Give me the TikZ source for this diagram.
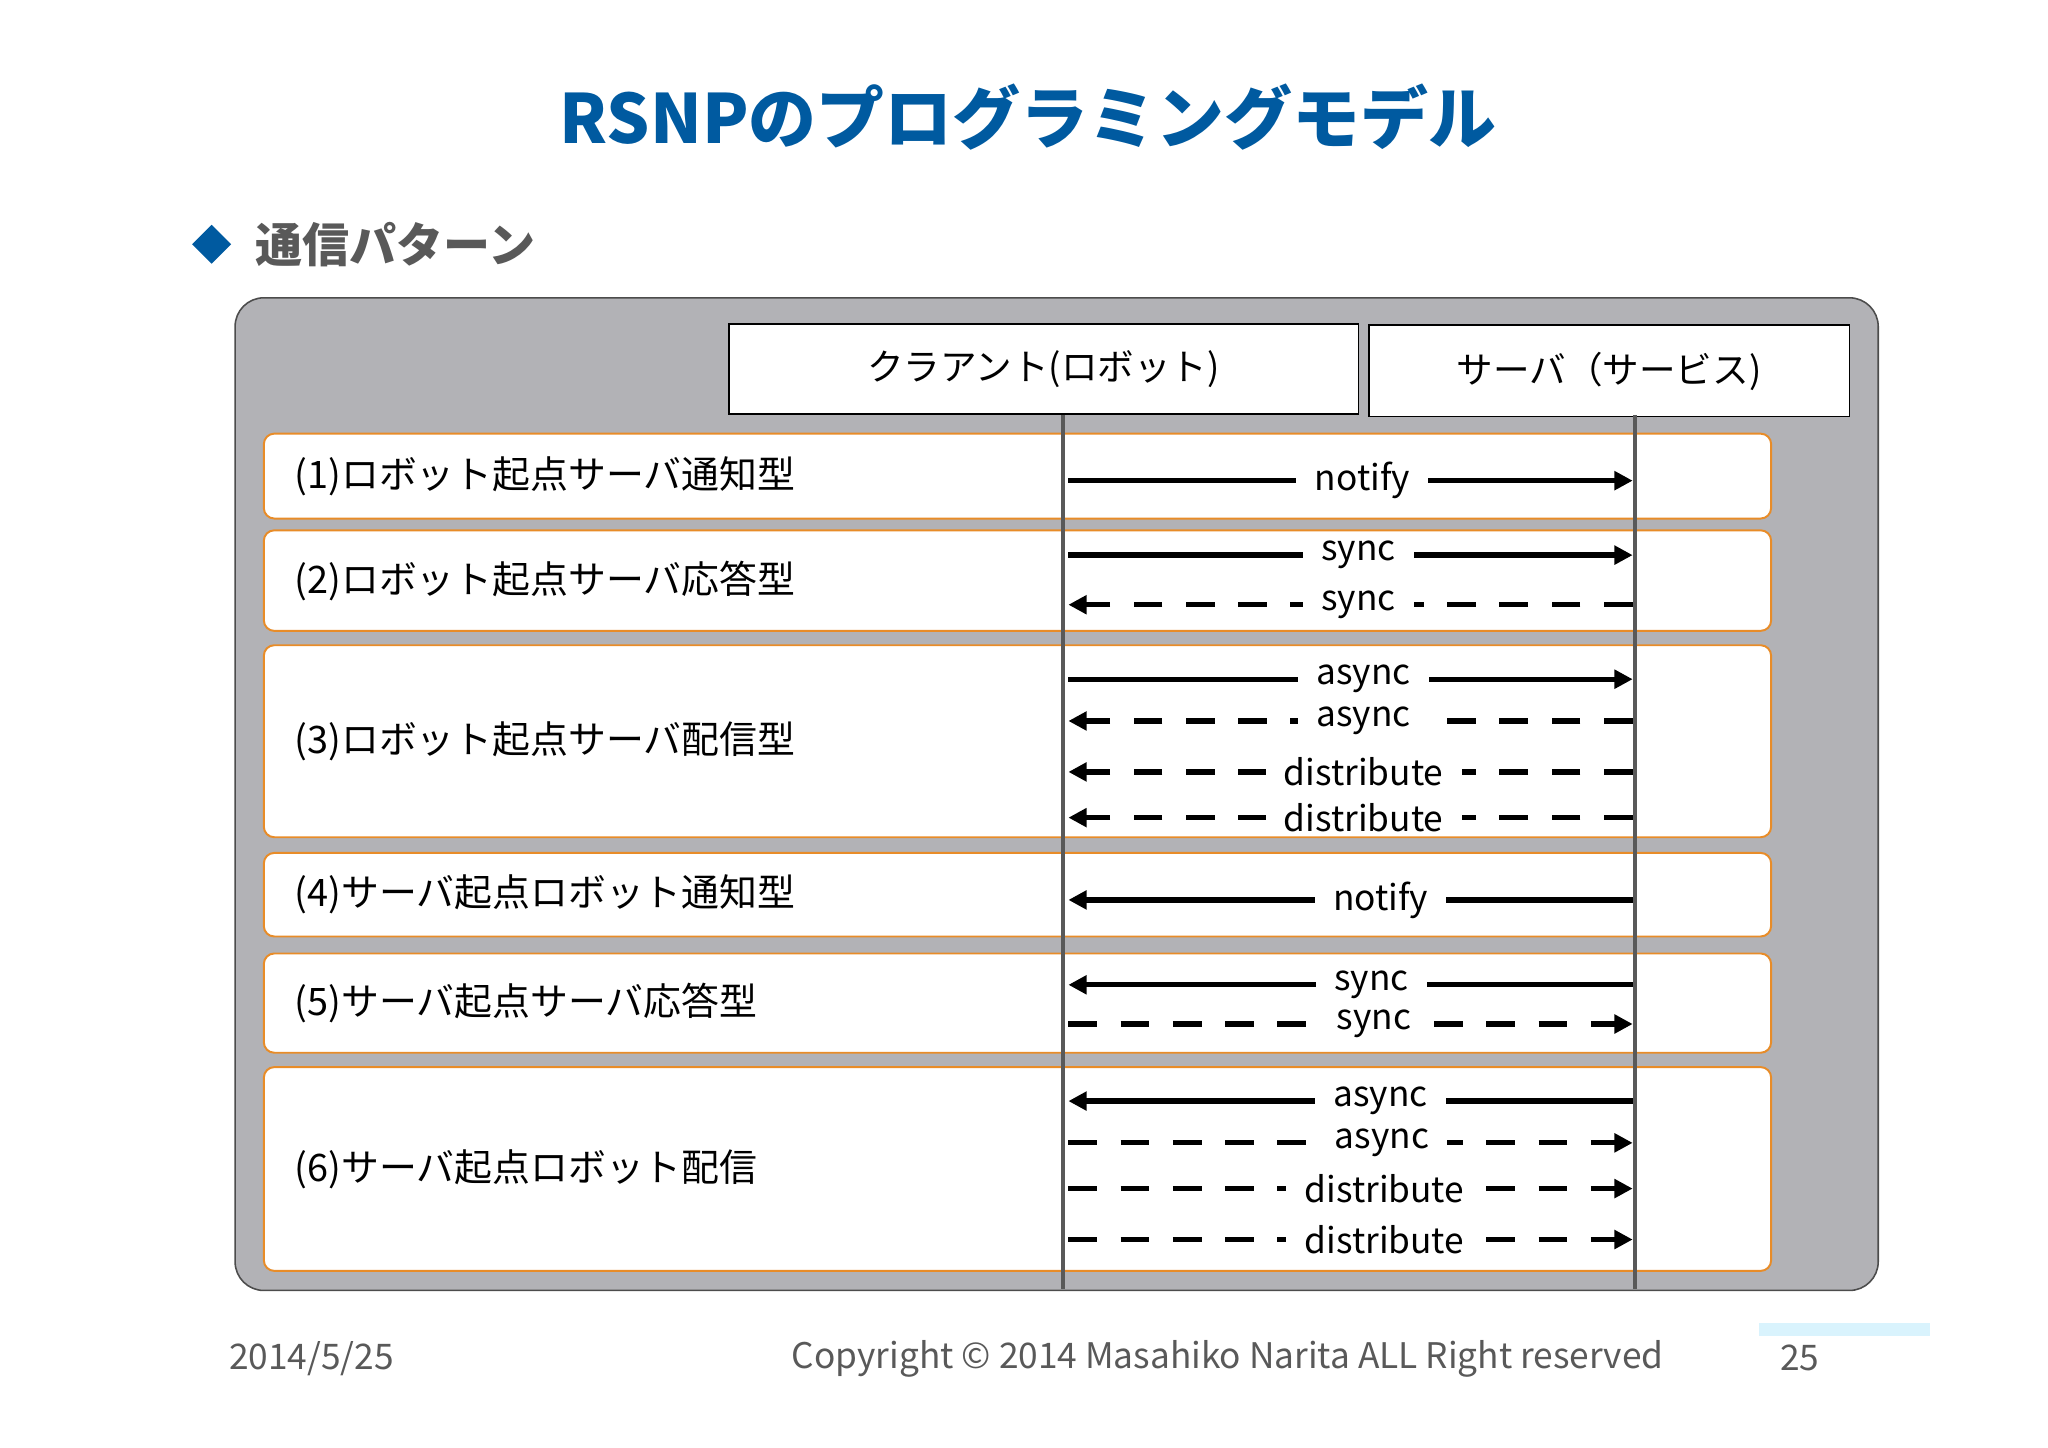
\documentclass[tikz,border=0pt]{standalone}
\usepackage{fontspec}
\setmainfont{Noto Sans CJK JP}
\usetikzlibrary{arrows.meta,shapes.geometric}
\definecolor{ttl}{RGB}{0,90,160}
\definecolor{txtg}{RGB}{89,89,89}
\definecolor{panel}{RGB}{178,178,182}
\definecolor{org}{RGB}{232,140,40}
\begin{document}
\begin{tikzpicture}[x=1pt,y=-1pt,
  rowbox/.style={draw=org,line width=1.5pt,fill=white,rounded corners=8pt},
  hdr/.style={draw=black,line width=1.2pt,fill=white,font=\fontsize{28}{30}\selectfont,text=black},
  rowlab/.style={anchor=west,font=\fontsize{29}{31}\selectfont,text=black},
  lab/.style={fill=white,inner xsep=14pt,inner ysep=1pt,font=\fontsize{27}{29}\selectfont,text=black},
  arr/.style={line width=4pt,-{Triangle[length=14pt,width=14pt]}},
  ln/.style={line width=4pt},
  dsh/.style={dash pattern=on 22pt off 18pt}]
\useasboundingbox (0,0) rectangle (1568,1108);
\node[font=\fontsize{52}{56}\selectfont\bfseries,text=ttl] (title) at (787,90) {RSNPのプログラミングモデル};
\node[diamond,fill=ttl,minimum width=30pt,minimum height=30pt,inner sep=0pt] (dia) at (162,187) {};
\node[anchor=west,font=\fontsize{36}{38}\selectfont\bfseries,text=txtg] (sub) at (192,187) {通信パターン};
\node[draw=black!70,line width=1.2pt,fill=panel,rounded corners=22pt,minimum width=1258pt,minimum height=760pt] (panel) at (809,608) {};
\node[hdr,minimum width=482pt,minimum height=69pt] (cli) at (799,282.5) {クラアント(ロボット)};
\node[hdr,minimum width=368pt,minimum height=70pt] (srv) at (1232,284) {サーバ（サービス)};
% rows
\foreach \n/\a/\b/\t in {1/332/397/{(1)ロボット起点サーバ通知型},2/406/483/{(2)ロボット起点サーバ応答型},3/494/641/{(3)ロボット起点サーバ配信型},4/653/717/{(4)サーバ起点ロボット通知型},5/730/806/{(5)サーバ起点サーバ応答型},6/817/973/{(6)サーバ起点ロボット配信}}{
  \draw[rowbox] (202,\a) rectangle (1356,\b);
  \node[rowlab] (r\n) at (222,{(\a+\b)/2}) {\t};
}
\coordinate (vt1) at (814,318); \coordinate (vb1) at (814,987);
\coordinate (vt2) at (1252,318); \coordinate (vb2) at (1252,987);
\draw[line width=3pt,black!65] (vt1)--(vb1);
\draw[line width=3pt,black!65] (vt2)--(vb2);
% messages: y / direction / style / label / label x
\foreach \i/\y/\d/\s/\t/\lx in {
 a/368/r/s/notify/1043, b/425/r/s/sync/1040, c/463/l/d/sync/1040,
 d/520/r/s/async/1044, e/552/l/d/async/1044, f/591/l/d/distribute/1044, g/626/l/d/distribute/1044,
 h/689/l/s/notify/1057, i/754/l/s/sync/1050, j/784/r/d/sync/1052,
 k/843/l/s/async/1057, m/875/r/d/async/1058, n/910/r/d/distribute/1060, o/949/r/d/distribute/1060}{
  \coordinate (L\i) at (818,\y); \coordinate (R\i) at (1250,\y);
  \if r\d
    \if s\s \draw[arr] (L\i)--(R\i); \else \draw[arr,dsh] (L\i)--(R\i); \fi
  \else
    \if s\s \draw[arr] (R\i)--(L\i); \else \draw[arr,dsh] (R\i)--(L\i); \fi
  \fi
  \node[lab] (t\i) at (\lx,\y) {\t};
}
\fill[cyan!15] (1347,1013) rectangle (1478,1023);
\node[anchor=west,font=\fontsize{27}{29}\selectfont,text=txtg] (date) at (172,1040) {2014/5/25};
\node[font=\fontsize{27}{29}\selectfont,text=txtg] (copy) at (940,1040) {Copyright © 2014 Masahiko Narita ALL Right reserved};
\node[font=\fontsize{27}{29}\selectfont,text=txtg] (pg) at (1378,1040) {25};
\end{tikzpicture}
\end{document}
